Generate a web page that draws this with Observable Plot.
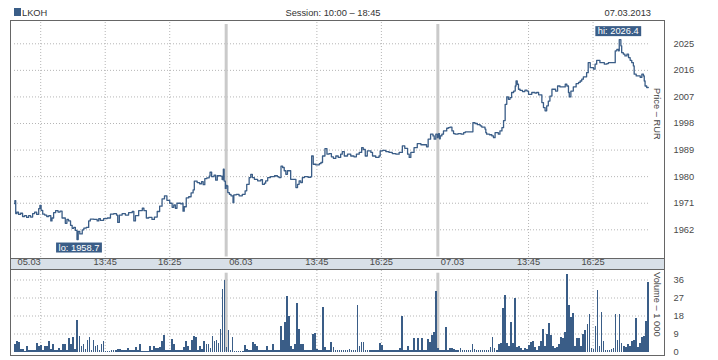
<!DOCTYPE html>
<html>
<head>
<meta charset="utf-8">
<script src="https://cdn.jsdelivr.net/npm/d3@7"></script>
<script src="https://cdn.jsdelivr.net/npm/@observablehq/plot@0.6"></script>
<style>
  body { margin: 0; background: #fff; }
  #wrap { position: relative; width: 718px; height: 360px; overflow: hidden;
          font-family: "Liberation Sans", Arial, sans-serif;
          font-size: 9.3px; color: #333; }
  .abs { position: absolute; line-height: 12px; white-space: nowrap; }
  .vlab { position: absolute; writing-mode: vertical-rl; line-height: 12px; color: #444; white-space: nowrap; }
  svg { display: block; }
</style>
</head>
<body>
<div id="wrap">
  <div class="abs" id="band" style="left:10px;top:257.5px;width:655px;height:10px;background:#d8e0e8;border-top:1.5px solid #666;border-bottom:1.5px solid #666;"></div>
  <div class="abs" id="price" style="left:0;top:21px;"></div>
  <div class="abs" id="volume" style="left:0;top:270px;"></div>
  <div class="abs" id="frame" style="left:10px;top:20px;width:655px;height:336px;border:1.5px solid #666;box-sizing:border-box;"></div>
  <div class="abs" id="sq" style="left:14px;top:8px;width:7px;height:8px;background:#3a5d87;"></div>
  <div class="abs" id="ticker" style="left:22px;top:7px;"></div>
  <div class="abs" id="session" style="left:233px;top:7px;width:200px;text-align:center;"></div>
  <div class="abs" id="date" style="right:67px;top:7px;"></div>
  <div class="vlab" id="plab" style="left:650.5px;top:88px;"></div>
  <div class="vlab" id="vlab" style="left:650.5px;top:272px;"></div>
</div>
<script>
// ---------- data ----------
const ticker = "LKOH";
const tradeDate = "07.03.2013";
const sessionOpen = "10:00";
const sessionClose = "18:45";
const days = ["05.03", "06.03", "07.03"];
const timeTicks = ["13:45", "16:25"];
const extraGrid = [["05.03", "11:05"]];
const priceTicks = [1962, 1971, 1980, 1989, 1998, 2007, 2016, 2025];
const volumeTicks = [0, 9, 18, 27, 36];
const priceLabel = "Price – RUR";
const volumeLabel = "Volume – 1 000";
const binMinutes = 5;

// [minutes since session open, price]
const price1 = [[0,1970.9],[1,1971.9],[3,1967.5],[6,1968.0],[10,1967.2],[15,1967.6],[20,1966.5],[25,1966.8],[30,1966.2],[35,1966.8],[40,1966.3],[45,1967.5],[50,1968.0],[55,1967.2],[60,1969.2],[63,1970.3],[66,1968.6],[70,1967.3],[75,1967.0],[80,1966.5],[85,1966.8],[90,1965.0],[93,1966.0],[97,1967.8],[102,1968.5],[108,1968.0],[113,1968.3],[118,1966.0],[126,1964.2],[130,1965.5],[134,1965.0],[139,1963.5],[143,1962.5],[147,1962.8],[151,1961.8],[155,1958.7],[158,1961.5],[162,1960.6],[168,1962.0],[172,1962.6],[178,1962.8],[184,1965.0],[188,1965.6],[197,1965.5],[205,1965.0],[209,1965.8],[213,1965.2],[221,1965.8],[230,1966.0],[238,1967.3],[246,1967.5],[253,1967.0],[256,1964.5],[260,1967.0],[267,1967.5],[275,1967.0],[283,1967.8],[292,1968.2],[296,1965.0],[300,1966.8],[308,1968.5],[317,1969.3],[321,1968.5],[327,1966.0],[333,1966.2],[341,1965.5],[347,1966.3],[354,1968.2],[360,1970.0],[366,1972.5],[372,1973.5],[378,1972.0],[385,1971.0],[391,1969.6],[395,1970.4],[399,1969.3],[403,1971.0],[412,1970.8],[416,1971.0],[418,1968.3],[421,1969.8],[426,1972.8],[432,1973.2],[438,1974.5],[443,1975.5],[446,1978.5],[453,1978.0],[459,1977.6],[464,1978.3],[468,1977.3],[472,1979.3],[477,1979.6],[483,1980.2],[485,1981.5],[489,1980.0],[495,1980.5],[499,1978.8],[503,1980.3],[511,1980.2],[515,1979.0],[518,1982.5],[520,1978.5],[523,1976.0]];
const price2 = [[0,1977.0],[2,1976.9],[4,1974.6],[8,1974.0],[12,1973.5],[17,1971.2],[19,1973.8],[25,1974.0],[32,1973.5],[40,1974.0],[47,1975.2],[51,1977.4],[57,1979.7],[61,1980.8],[65,1979.7],[70,1979.1],[78,1978.6],[86,1979.0],[90,1977.4],[95,1977.8],[98,1978.6],[103,1979.7],[110,1980.0],[120,1980.3],[127,1980.0],[131,1979.7],[136,1983.6],[140,1983.1],[144,1982.0],[148,1980.8],[152,1982.0],[156,1982.0],[160,1979.1],[169,1979.1],[173,1976.3],[177,1977.4],[181,1978.6],[185,1978.0],[189,1979.7],[194,1980.0],[203,1979.8],[210,1980.0],[212,1987.0],[216,1984.2],[222,1984.0],[231,1984.4],[235,1984.8],[239,1987.0],[245,1989.5],[250,1987.6],[255,1987.8],[261,1986.7],[266,1986.2],[272,1987.0],[278,1986.5],[284,1987.6],[288,1988.5],[293,1987.0],[301,1987.6],[309,1987.0],[317,1986.7],[323,1987.6],[330,1988.2],[336,1989.8],[340,1989.2],[345,1987.0],[350,1988.7],[359,1988.2],[363,1987.0],[371,1986.5],[379,1987.0],[382,1988.7],[388,1988.9],[396,1988.5],[404,1988.2],[412,1987.8],[421,1987.6],[429,1988.2],[437,1990.4],[443,1989.6],[450,1987.6],[454,1986.5],[458,1988.2],[466,1989.8],[474,1991.2],[483,1990.8],[491,1990.8],[497,1990.1],[501,1992.7],[507,1994.4],[513,1993.8],[516,1992.7],[520,1994.4],[524,1993.2]];
const price3 = [[0,1993.5],[2,1994.6],[4,1992.8],[6,1993.8],[10,1994.4],[14,1995.5],[22,1996.4],[26,1996.6],[30,1996.8],[35,1995.5],[39,1994.6],[43,1994.4],[50,1994.6],[58,1994.4],[64,1994.9],[68,1995.2],[84,1995.2],[87,1998.3],[92,1998.0],[98,1997.6],[105,1997.2],[109,1996.8],[117,1996.1],[119,1994.9],[121,1994.4],[128,1994.2],[134,1993.8],[138,1993.2],[142,1994.9],[150,1994.4],[154,1995.5],[159,1996.6],[163,1999.0],[167,2004.5],[171,2007.0],[175,2006.2],[179,2006.8],[183,2008.5],[188,2009.0],[192,2010.7],[194,2012.4],[197,2011.3],[200,2009.6],[204,2009.2],[210,2008.8],[216,2009.3],[221,2009.0],[225,2007.9],[233,2008.5],[241,2008.3],[245,2008.5],[250,2007.7],[258,2005.1],[262,2003.4],[266,2002.3],[270,2004.0],[274,2005.6],[278,2007.3],[283,2009.6],[287,2009.6],[292,2009.0],[297,2010.7],[303,2010.4],[311,2010.4],[316,2011.3],[320,2010.7],[324,2008.5],[326,2007.0],[330,2009.0],[336,2010.4],[343,2011.5],[349,2011.9],[353,2012.4],[357,2013.0],[361,2013.8],[365,2013.8],[369,2015.2],[373,2018.6],[378,2016.9],[386,2016.4],[390,2018.1],[394,2019.4],[402,2018.6],[407,2018.6],[413,2018.1],[419,2018.3],[423,2018.6],[436,2018.6],[440,2022.6],[444,2023.1],[448,2022.6],[450,2026.4],[454,2024.3],[456,2022.0],[460,2021.5],[464,2020.9],[469,2021.5],[473,2020.3],[477,2019.4],[481,2018.6],[485,2017.5],[487,2014.7],[492,2014.1],[498,2014.1],[502,2013.6],[506,2014.7],[510,2014.1],[512,2012.4],[514,2010.7],[518,2010.2],[522,2010.2]];

// volume (thousands) per 5-minute bin
const volume1 = [3.7,5.2,4.7,1.5,1.5,0.5,2.7,0.7,0.7,1.0, 1.0,4.2,3.0,3.2,0.7,2.7,2.7,5.2,1.5,3.7, 1.0,0.8,2.0,1.0,4.0,3.7,1.0,6.7,4.0,7.2, 1.5,16.0,7.7,2.7,3.7,1.3,6.0,7.2,1.0,5.7, 2.7,3.2,1.0,3.7,5.2,0.5,0.5,0.5,0.7,0.7, 1.0,1.3,1.3,1.0,1.0,1.0,2.0,0.7,0.7,0.7, 2.3,0.7,3.7,0.5,0.5,0.5,0.5,2.7,0.7,2.7, 2.0,2.0,2.3,5.2,8.2,1.0,1.0,1.0,6.2,3.7, 0.7,0.7,0.7,0.7,2.3,5.2,2.7,1.0,5.7,8.0, 7.5,0.7,2.7,1.5,5.2,4.0,3.7,2.0,7.7,5.2, 6.0,4.3,11.5,31.5,36.0];
const volume2 = [2.3,11.0,0.7,7.2,0.3,0.3,0.3,0.3,0.3,3.2, 1.5,1.0,1.0,4.7,3.7,3.0,1.0,0.7,0.7,0.7, 2.7,0.7,0.7,3.7,1.0,1.0,1.0,12.7,5.7,14.8, 27.7,17.8,2.7,1.3,3.7,24.3,11.5,3.7,3.7,1.0, 0.7,0.7,0.7,8.7,9.3,1.5,1.0,0.7,22.3,2.3, 0.7,0.7,4.8,2.3,0.7,0.7,1.0,1.0,1.0,0.7, 0.7,1.5,0.7,0.7,1.0,23.2,2.7,4.8,4.8,1.0, 1.0,1.0,0.7,0.7,0.7,0.7,4.3,3.2,0.7,0.7, 0.7,0.7,0.7,0.7,0.7,1.0,1.7,17.8,0.7,0.7, 2.7,0.7,0.7,6.7,1.0,6.7,0.7,6.7,0.7,1.0, 6.2,4.8,8.2,9.7,30.2];
const volume3 = [1.7,1.0,0.7,0.7,12.2,1.0,2.0,2.0,1.3,1.0, 1.0,2.0,1.0,0.7,0.7,0.7,0.7,3.7,1.3,0.7, 0.7,0.7,0.7,0.7,0.7,0.7,2.3,7.2,2.0,1.0, 3.7,4.3,22.0,28.3,4.3,3.0,14.8,4.3,26.8,2.3, 2.7,2.0,1.0,2.0,1.3,3.2,5.0,5.3,2.5,1.0, 3.0,5.3,11.3,2.7,9.0,14.3,8.3,3.0,2.0,2.3, 4.0,7.2,6.8,9.8,39.0,23.3,17.3,19.3,2.7,6.8, 6.8,3.0,9.0,11.0,14.0,19.0,1.7,1.3,12.7,31.0, 2.7,19.7,5.3,1.0,1.0,1.0,1.3,2.0,18.8,6.0, 18.8,4.3,3.0,2.3,3.7,3.0,5.3,5.7,17.0,2.3, 4.3,7.3,8.0,15.3,34.7];

// ---------- derived ----------
const toMin = s => { const [h, m] = s.split(":").map(Number); return h * 60 + m; };
const sessLen = toMin(sessionClose) - toMin(sessionOpen);
const total = sessLen * days.length;
const offsetOf = t => toMin(t) - toMin(sessionOpen);

const priceData = [price1, price2, price3].flatMap((arr, d) => arr.map(([m, v]) => ({t: d * sessLen + m, v})));
const volumeData = [volume1, volume2, volume3].flatMap((arr, d) =>
  arr.map((v, i) => ({t1: d * sessLen + i * binMinutes, t2: d * sessLen + (i + 1) * binMinutes, v})));
const separators = days.slice(1).map((d, i) => (i + 1) * sessLen);
const gridTimes = [
  ...extraGrid.map(([d, t]) => days.indexOf(d) * sessLen + offsetOf(t)),
  ...days.flatMap((d, i) => timeTicks.map(t => i * sessLen + offsetOf(t)))
];
const dateLabels = days.map((d, i) => ({t: i * sessLen, label: d}));
const timeLabels = days.flatMap((d, i) => timeTicks.map(t => ({t: i * sessLen + offsetOf(t), label: t})));
const hi = d3.greatest(priceData, d => d.v);
const lo = d3.least(priceData, d => d.v);

// ---------- styling ----------
const FONT = '"Liberation Sans", Arial, sans-serif';
const BLUE = "#3a5d87";
const TXT = "#4a4a4a";
const GRID = {stroke: "#b5b5b5", strokeOpacity: 1, strokeWidth: 1, strokeDasharray: "1,2"};
const SEP = {stroke: "#cacaca", strokeOpacity: 1, strokeWidth: 3};
const style = {background: "transparent", fontFamily: FONT, fontSize: "9.3px", overflow: "visible"};

document.getElementById("ticker").textContent = ticker;
document.getElementById("session").textContent = `Session: ${sessionOpen} – ${sessionClose}`;
document.getElementById("date").textContent = tradeDate;
document.getElementById("plab").textContent = priceLabel;
document.getElementById("vlab").textContent = volumeLabel;

const priceChart = Plot.plot({
  width: 718, height: 249,
  marginLeft: 14, marginRight: 69, marginTop: 1, marginBottom: 12,
  x: {domain: [0, total], axis: null},
  y: {domain: [1952.28, 2032.21], axis: null},
  style,
  marks: [
    Plot.ruleY(priceTicks, GRID),
    Plot.ruleX(gridTimes, GRID),
    Plot.ruleX(separators, {...SEP, insetTop: 2, insetBottom: 1.5}),
    Plot.line(priceData, {x: "t", y: "v", stroke: BLUE, strokeWidth: 1.3, curve: "step-after"}),
    Plot.text(priceTicks, {y: d => d, text: d => String(d), frameAnchor: "right", dx: 24, textAnchor: "start", fill: TXT}),
    Plot.text(dateLabels, {x: "t", text: "label", frameAnchor: "bottom", dy: 6, dx: 3, textAnchor: "start", fill: TXT}),
    Plot.text(timeLabels, {x: "t", text: "label", frameAnchor: "bottom", dy: 6, fill: TXT}),
    Plot.text([hi], {x: "t", y: "v", text: d => "hi: " + d.v.toFixed(1), dy: -8.5, dx: -1, fill: "white"}),
    Plot.text([lo], {x: "t", y: "v", text: d => "lo: " + d.v.toFixed(1), dy: 8, dx: 2, fill: "white"})
  ]
});
document.getElementById("price").append(priceChart);

// label boxes behind hi/lo texts
priceChart.querySelectorAll("text").forEach(t => {
  const s = t.textContent;
  if (s.startsWith("hi:") || s.startsWith("lo:")) {
    const bb = t.getBBox();
    const r = document.createElementNS("http://www.w3.org/2000/svg", "rect");
    r.setAttribute("x", bb.x - 2.5);
    r.setAttribute("y", bb.y);
    r.setAttribute("width", bb.width + 5);
    r.setAttribute("height", bb.height);
    r.setAttribute("fill", BLUE);
    r.setAttribute("stroke", "none");
    const tr = t.getAttribute("transform");
    if (tr) r.setAttribute("transform", tr);
    t.parentNode.insertBefore(r, t);
  }
});

const volumeChart = Plot.plot({
  width: 718, height: 90,
  marginLeft: 14, marginRight: 69, marginTop: 0, marginBottom: 8.5,
  x: {domain: [0, total], axis: null},
  y: {domain: [0, 40.75], axis: null},
  style,
  marks: [
    Plot.ruleY(volumeTicks.filter(v => v > 0), GRID),
    Plot.ruleX(gridTimes, GRID),
    Plot.ruleX(separators, {...SEP, insetTop: 2.7}),
    Plot.rectY(volumeData, {x1: "t1", x2: "t2", y: "v", fill: BLUE, insetRight: 0.3, shapeRendering: "crispEdges"}),
    Plot.text(volumeTicks, {y: d => d, text: d => String(d), frameAnchor: "right", dx: 24, textAnchor: "start", fill: TXT})
  ]
});
document.getElementById("volume").append(volumeChart);
</script>
</body>
</html>
